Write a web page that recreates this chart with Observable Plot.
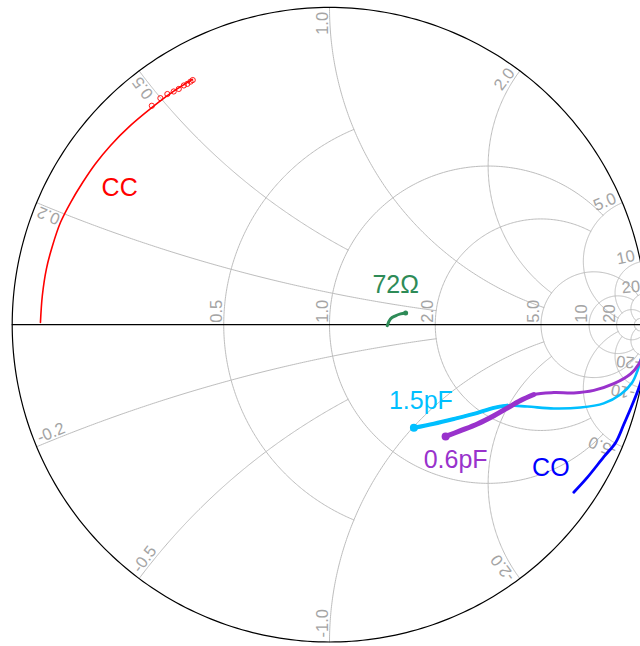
<!DOCTYPE html>
<html><head><meta charset="utf-8">
<style>html,body{margin:0;padding:0;background:#fff;overflow:hidden}#chart svg{display:block;overflow:hidden}</style>
<script src="https://cdn.jsdelivr.net/npm/d3@7"></script>
<script src="https://cdn.jsdelivr.net/npm/@observablehq/plot@0.6"></script>
</head><body><div id="chart"></div>
<script>
// ---- grid ticks (normalized impedance) ----
const realTicks = [0.5, 1, 2, 5, 10, 20, 50];
const realTickLabels = ["0.5", "1.0", "2.0", "5.0", "10", "20", ""];
const realTickLimits = [1, 5, 5, 20, 20, 50, 50];      // |x| extent of each resistance circle
const imagTicks = [0.2, 0.5, 1, 2, 5, 10, 20, 50];
const imagTickLabels = ["0.2", "0.5", "1.0", "2.0", "5.0", "10", "20", ""];
const imagTickLimits = [2, 1, 5, 5, 20, 20, 50, 50];   // r extent of each reactance arc

// ---- series (reflection coefficient, re / im) ----
const ccRe = [-0.911, -0.905, -0.892, -0.873, -0.848, -0.816, -0.778, -0.737, -0.690, -0.627, -0.564, -0.501, -0.432];
const ccIm = [0.007, 0.092, 0.177, 0.249, 0.322, 0.385, 0.448, 0.508, 0.565, 0.628, 0.681, 0.729, 0.773];
const ccMarkRe = [-0.560, -0.533, -0.511, -0.491, -0.475, -0.459, -0.448, -0.438, -0.431];
const ccMarkIm = [0.690, 0.714, 0.727, 0.735, 0.743, 0.754, 0.759, 0.766, 0.771];
const ohmRe = [0.182, 0.192, 0.208, 0.224, 0.240];
const ohmIm = [-0.003, 0.018, 0.028, 0.034, 0.037];
const pf15Re = [0.266, 0.329, 0.392, 0.455, 0.518, 0.560, 0.623, 0.707, 0.791, 0.864, 0.917, 0.954, 0.971, 0.980, 0.996];
const pf15Im = [-0.325, -0.312, -0.297, -0.281, -0.262, -0.255, -0.258, -0.264, -0.261, -0.248, -0.220, -0.182, -0.144, -0.113, -0.066];
const pf06Re = [0.366, 0.413, 0.466, 0.518, 0.560, 0.602, 0.644, 0.707, 0.770, 0.833, 0.896, 0.949, 0.975, 0.996];
const pf06Im = [-0.352, -0.334, -0.313, -0.287, -0.263, -0.239, -0.220, -0.214, -0.215, -0.207, -0.186, -0.155, -0.124, -0.075];
const coRe = [0.770, 0.812, 0.865, 0.902, 0.928, 0.955, 0.981, 0.993];
const coIm = [-0.528, -0.482, -0.416, -0.371, -0.313, -0.250, -0.181, -0.120];

const seriesNames = ["CC", "72Ω", "1.5pF", "0.6pF", "CO"];
const seriesColors = ["#ff0000", "#2e8b57", "#00bfff", "#9932cc", "#0000ff"];

// ---- helpers ----
const R_PX = 317.3; // pixels per unit of |Γ| (for label offsets only)
const pts = (re, im) => re.map((v, i) => ({re: v, im: im[i]}));
function gamma(r, x) { const d = (r + 1) * (r + 1) + x * x; return [(r * r + x * x - 1) / d, 2 * x / d]; }

const gridRows = [];
realTicks.forEach((r, k) => {
  const c = r / (1 + r), rho = 1 / (1 + r);
  const g = gamma(r, realTickLimits[k]);
  const p0 = Math.atan2(g[1], g[0] - c);
  const n = 300;
  for (let i = 0; i <= n; i++) {
    const p = p0 + (2 * Math.PI - 2 * p0) * i / n;
    gridRows.push({re: c + rho * Math.cos(p), im: rho * Math.sin(p), id: "r" + k});
  }
});
imagTicks.forEach((x, k) => {
  const cy = 1 / x, rho = 1 / x;
  const norm = a => (a < 0 ? a + 2 * Math.PI : a);
  const g0 = gamma(0, x), g1 = gamma(imagTickLimits[k], x);
  const a0 = norm(Math.atan2(g0[1] - cy, g0[0] - 1)), a1 = norm(Math.atan2(g1[1] - cy, g1[0] - 1));
  const n = 200;
  for (const s of [1, -1]) {
    for (let i = 0; i <= n; i++) {
      const a = a0 + (a1 - a0) * i / n;
      gridRows.push({re: 1 + rho * Math.cos(a), im: s * (cy + rho * Math.sin(a)), id: "x" + k + (s > 0 ? "p" : "n")});
    }
  }
});
const outer = d3.range(0, 361).map(a => ({re: Math.cos(a * Math.PI / 180), im: Math.sin(a * Math.PI / 180)}));

// real-axis labels: left of each circle, reading upward
const realLabels = realTicks.map((r, k) => {
  const g = gamma(r, 0);
  return {re: g[0] - 2 / R_PX, im: 2 / R_PX, text: realTickLabels[k], rot: -90};
}).filter(d => d.text);
// boundary labels for reactance arcs
const imagLabels = [];
imagTicks.forEach((x, k) => {
  if (!imagTickLabels[k]) return;
  for (const s of [1, -1]) {
    const g = gamma(0, s * x);
    const th = Math.atan2(g[1], g[0]);
    const ur = [Math.cos(th), Math.sin(th)];
    const ut = s > 0 ? [-Math.sin(th), Math.cos(th)] : [Math.sin(th), -Math.cos(th)];
    const inward = 4.5 / R_PX, side = 2 / R_PX;
    imagLabels.push({
      re: g[0] - ur[0] * inward + ut[0] * side,
      im: g[1] - ur[1] * inward + ut[1] * side,
      text: (s < 0 ? "-" : "") + imagTickLabels[k],
      rot: s > 0 ? -th * 180 / Math.PI : -(th * 180 / Math.PI + 180),
      anchor: s > 0 ? "end" : "start"
    });
  }
});

const cc = pts(ccRe, ccIm), ohm = pts(ohmRe, ohmIm), pf15 = pts(pf15Re, pf15Im), pf06 = pts(pf06Re, pf06Im), co = pts(coRe, coIm);
const ccMarks = pts(ccMarkRe, ccMarkIm);
const FONT = "'Liberation Sans', Arial, Helvetica, sans-serif";
const gridColor = "#bdbdbd", labelColor = "#a4a4a4";

const chart = Plot.plot({
  width: 640, height: 646, margin: 0,
  style: {fontFamily: FONT, overflow: "hidden", background: "#fff"},
  x: {domain: [-1, 1], range: [11.7, 646.3], axis: null},
  y: {domain: [-1, 1], range: [641.5, 6.9], axis: null},
  marks: [
    Plot.line(gridRows, {x: "re", y: "im", z: "id", stroke: gridColor, strokeWidth: 1}),
    Plot.line(outer, {x: "re", y: "im", stroke: "#000", strokeWidth: 1.2}),
    Plot.line([{re: -1, im: 0}, {re: 1, im: 0}], {x: "re", y: "im", stroke: "#000", strokeWidth: 1.2}),
    Plot.text(realLabels, {x: "re", y: "im", text: "text", rotate: "rot", textAnchor: "start", lineAnchor: "bottom", fill: labelColor, fontSize: 16.5}),
    Plot.text(imagLabels.filter(d => d.anchor === "end"), {x: "re", y: "im", text: "text", rotate: "rot", textAnchor: "end", lineAnchor: "bottom", fill: labelColor, fontSize: 16.5}),
    Plot.text(imagLabels.filter(d => d.anchor === "start"), {x: "re", y: "im", text: "text", rotate: "rot", textAnchor: "start", lineAnchor: "bottom", fill: labelColor, fontSize: 16.5}),
    // CC
    Plot.line(cc, {x: "re", y: "im", stroke: seriesColors[0], strokeWidth: 1.6, curve: "catmull-rom"}),
    Plot.dot(ccMarks, {x: "re", y: "im", r: 2.6, stroke: seriesColors[0], strokeWidth: 0.9, fill: "none"}),
    // 72 ohm
    Plot.line(ohm, {x: "re", y: "im", stroke: seriesColors[1], strokeWidth: 3, strokeLinecap: "round", curve: "catmull-rom"}),
    Plot.dot([ohm[ohm.length - 1]], {x: "re", y: "im", r: 2.5, fill: seriesColors[1]}),
    // 1.5 pF
    Plot.line(pf15, {x: "re", y: "im", stroke: seriesColors[2], strokeWidth: 2.6, curve: "catmull-rom"}),
    Plot.line(pf15.slice(0, 6), {x: "re", y: "im", stroke: seriesColors[2], strokeWidth: 4, strokeLinecap: "round", curve: "catmull-rom"}),
    Plot.dot([pf15[0]], {x: "re", y: "im", r: 4, fill: seriesColors[2]}),
    // 0.6 pF
    Plot.line(pf06, {x: "re", y: "im", stroke: seriesColors[3], strokeWidth: 3, curve: "catmull-rom"}),
    Plot.line(pf06.slice(0, 7), {x: "re", y: "im", stroke: seriesColors[3], strokeWidth: 5, strokeLinecap: "round", curve: "catmull-rom"}),
    Plot.dot([pf06[0]], {x: "re", y: "im", r: 4, fill: seriesColors[3]}),
    // CO
    Plot.line(co, {x: "re", y: "im", stroke: seriesColors[4], strokeWidth: 2.8, curve: "catmull-rom"}),
    // annotations placed relative to series points
    Plot.text([cc[6]], {x: "re", y: "im", text: () => seriesNames[0], dx: 37, dy: 5, fill: seriesColors[0], fontSize: 25, lineAnchor: "middle"}),
    Plot.text([ohm[ohm.length - 1]], {x: "re", y: "im", text: () => seriesNames[1], dx: -10, dy: -28, fill: seriesColors[1], fontSize: 25, lineAnchor: "middle"}),
    Plot.text([pf15[0]], {x: "re", y: "im", text: () => seriesNames[2], dx: 7, dy: -27, fill: seriesColors[2], fontSize: 25, lineAnchor: "middle"}),
    Plot.text([pf06[0]], {x: "re", y: "im", text: () => seriesNames[3], dx: 10, dy: 24, fill: seriesColors[3], fontSize: 25, lineAnchor: "middle"}),
    Plot.text([co[0]], {x: "re", y: "im", text: () => seriesNames[4], dx: -23, dy: -24, fill: seriesColors[4], fontSize: 25, lineAnchor: "middle"})
  ]
});
document.getElementById("chart").append(chart);
</script></body></html>
